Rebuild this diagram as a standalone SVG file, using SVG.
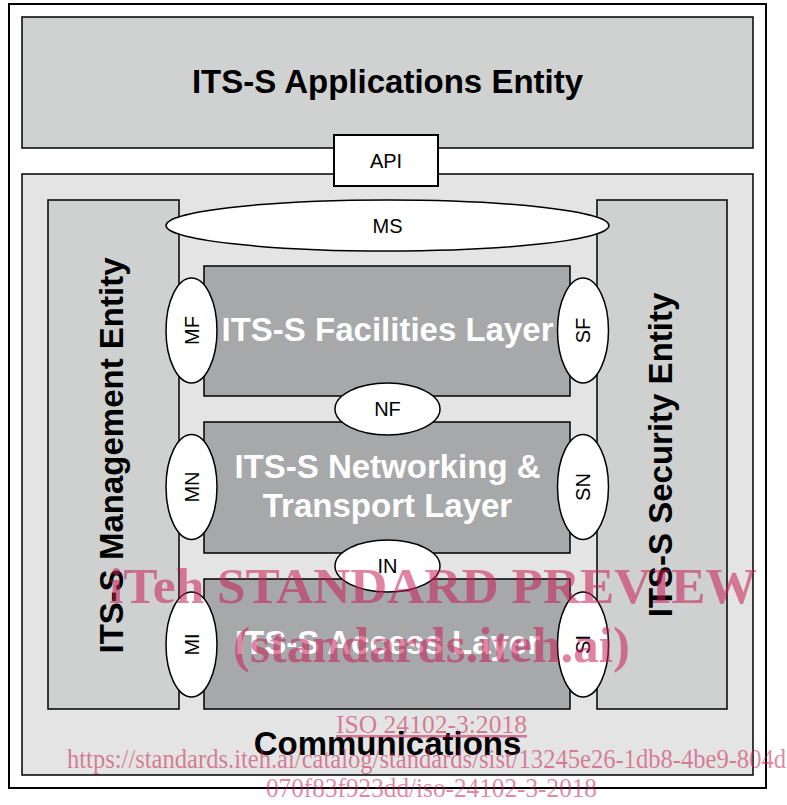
<svg xmlns="http://www.w3.org/2000/svg" width="787" height="805" viewBox="0 0 787 805">
<style>
.box{stroke:#000;stroke-width:1.5}
.ell{fill:#fff;stroke:#000;stroke-width:1.5}
.big{font-family:"Liberation Sans",Arial,sans-serif;font-weight:bold;font-size:33px;text-anchor:middle}
.wt{fill:#fff}
.lbl{font-family:"Liberation Sans",Arial,sans-serif;font-size:20px;text-anchor:middle;fill:#000}
.wm{font-family:"Liberation Serif","Times New Roman",serif;fill:#c81e55;fill-opacity:0.55}
</style>
<rect x="0" y="0" width="787" height="805" fill="#fff"/>
<g id="frame"><rect x="9" y="4" width="757" height="784" fill="#fff" stroke="#000" stroke-width="2"/></g>
<g id="applications-entity">
<rect class="box" x="22" y="17" width="731" height="131" fill="#d0d1d1"/>
<text class="big" x="387.5" y="93">ITS-S Applications Entity</text>
</g>
<g id="communications">
<rect class="box" x="22" y="174" width="731" height="601" fill="#e3e4e3"/>
<text class="big" x="387.5" y="755">Communications</text>
</g>
<g id="api">
<rect x="334" y="135" width="104" height="51" fill="#fff" stroke="#000" stroke-width="2"/>
<text class="lbl" x="386" y="168">API</text>
</g>
<g id="management-entity">
<rect class="box" x="48" y="200" width="131" height="509" fill="#cfd0d0"/>
<text class="big" transform="translate(123,455.5) rotate(-90)">ITS-S Management Entity</text>
</g>
<g id="security-entity">
<rect class="box" x="597" y="200" width="130" height="509" fill="#cfd0d0"/>
<text class="big" transform="translate(672,455) rotate(-90)">ITS-S Security Entity</text>
</g>
<g id="facilities-layer">
<rect class="box" x="204" y="266" width="366" height="130" fill="#a6a8a9"/>
<text class="big wt" x="387.5" y="341">ITS-S Facilities Layer</text>
</g>
<g id="networking-layer">
<rect class="box" x="204" y="422" width="366" height="131" fill="#a6a8a9"/>
<text class="big wt" x="387.5" y="478">ITS-S Networking &amp;</text>
<text class="big wt" x="387.5" y="517">Transport Layer</text>
</g>
<g id="access-layer">
<rect class="box" x="204" y="579" width="366" height="130" fill="#a6a8a9"/>
<text class="big wt" x="387.5" y="654">ITS-S Access Layer</text>
</g>
<g id="ms">
<ellipse class="ell" cx="387.5" cy="225.5" rx="221.5" ry="25.5"/>
<text class="lbl" x="387.5" y="233">MS</text>
</g>
<g id="nf">
<ellipse class="ell" cx="387.5" cy="409" rx="52.5" ry="26"/>
<text class="lbl" x="387.5" y="416">NF</text>
</g>
<g id="in">
<ellipse class="ell" cx="387.5" cy="566" rx="52.5" ry="26"/>
<text class="lbl" x="387.5" y="573">IN</text>
</g>
<g id="mf">
<ellipse class="ell" cx="191.5" cy="330.5" rx="25.5" ry="52.5"/>
<text class="lbl" transform="translate(199,330.5) rotate(-90)">MF</text>
</g>
<g id="mn">
<ellipse class="ell" cx="191.5" cy="487" rx="25.5" ry="52.5"/>
<text class="lbl" transform="translate(199,487) rotate(-90)">MN</text>
</g>
<g id="mi">
<ellipse class="ell" cx="191.5" cy="644.5" rx="25.5" ry="52.5"/>
<text class="lbl" transform="translate(199,644.5) rotate(-90)">MI</text>
</g>
<g id="sf">
<ellipse class="ell" cx="583" cy="330.5" rx="25.5" ry="52.5"/>
<text class="lbl" transform="translate(590,330.5) rotate(-90)">SF</text>
</g>
<g id="sn">
<ellipse class="ell" cx="583" cy="487" rx="25.5" ry="52.5"/>
<text class="lbl" transform="translate(590,487) rotate(-90)">SN</text>
</g>
<g id="si">
<ellipse class="ell" cx="583" cy="644.5" rx="25.5" ry="52.5"/>
<text class="lbl" transform="translate(590,644.5) rotate(-90)">SI</text>
</g>
<g id="connectors"></g>
<g id="watermark">
<text class="wm" x="109" y="603" font-size="50" font-weight="bold" textLength="648" lengthAdjust="spacingAndGlyphs">iTeh STANDARD PREVIEW</text>
<text class="wm" x="233" y="662" font-size="50" font-weight="bold" textLength="397" lengthAdjust="spacingAndGlyphs">(standards.iteh.ai)</text>
<text class="wm" x="336" y="733" font-size="26" textLength="191" lengthAdjust="spacingAndGlyphs" text-decoration="underline">ISO 24102-3:2018</text>
<text class="wm" x="67" y="768" font-size="28" textLength="719" lengthAdjust="spacingAndGlyphs">https://standards.iteh.ai/catalog/standards/sist/13245e26-1db8-4be9-804d</text>
<text class="wm" x="266" y="797" font-size="28" textLength="331" lengthAdjust="spacingAndGlyphs">070f83f923dd/iso-24102-3-2018</text>
</g>
</svg>
